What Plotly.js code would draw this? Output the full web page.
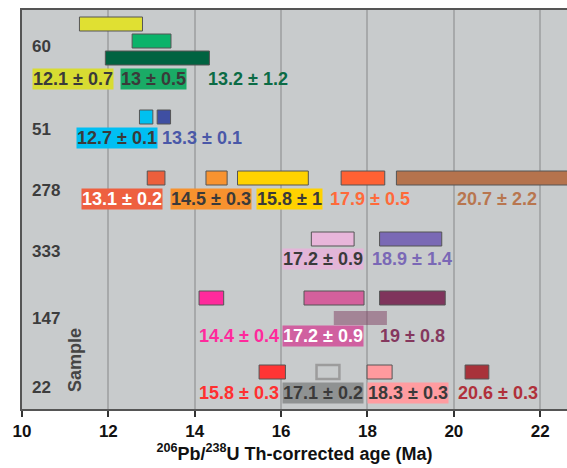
<!DOCTYPE html>
<html><head><meta charset="utf-8">
<script src="https://cdn.plot.ly/plotly-3.0.1.min.js"></script>
<style>body{margin:0;background:#fff}#chart{width:567px;height:468px}</style>
</head><body><div id="chart"></div>
<script>
// ---- data ----
const samples = ['60','51','278','333','147','22'];
// bars
const barSample = [0,0,0, 1,1, 2,2,2,2,2, 3,3, 4,4,4,4, 5,5,5,5];
const barLane   = [0,1,2, 0,0, 0,0,0,0,0, 0,0, 0,0,0,1, 0,0,0,0];
const barStart  = [11.33,12.55,11.93, 12.72,13.13, 12.90,14.26,14.99,17.39,18.67, 16.70,18.28, 14.10,16.53,18.28,17.22, 15.49,16.82,17.99,20.26];
const barEnd    = [12.79,13.45,14.34, 13.03,13.44, 13.31,14.75,16.63,18.40,22.90, 17.69,19.72, 14.67,17.92,19.80,18.45, 16.10,17.35,18.57,20.81];
// age labels
const labelSample = [0,0,0, 1,1, 2,2,2,2,2, 3,3, 4,4,4, 5,5,5,5];
const labelAge = [12.1,13,13.2, 12.7,13.3, 13.1,14.5,15.8,17.9,20.7, 17.2,18.9, 14.4,17.2,19, 15.8,17.1,18.3,20.6];
const labelErr = [0.7,0.5,1.2, 0.1,0.1, 0.2,0.3,1,0.5,2.2, 0.9,1.4, 0.4,0.9,0.8, 0.3,0.2,0.3,0.3];

// ---- styles / layout ----
const barColors = ['#e0e032','#0bb36a','#006341', '#00c0f0','#3f4fa2',
  '#ec5f3c','#f89330','#ffd200','#ff6133','#b5734d',
  '#e8b6da','#7a69b5', '#ff2a9c','#d4609c','#7f345c','rgba(125,62,95,0.5)',
  '#ff3535','#c8cbcc','#ff9a9e','#a8323a'];
const barLineColors = barColors.map((c,i)=> i===17 ? '#9c9c9c' : '#555555');
const barLineWidths = barColors.map((c,i)=> i===17 ? 2.5 : (i===15 ? 0 : 1));
const labelBg = ['#d8dc32','#1aab66',null, '#00bff3',null,
  '#ee6040','#f7922e','#ffd200',null,null,
  '#e3b5d8',null, null,'#d060a0',null, null,'#8f9292','#ff9ca0',null];
const labelColor = ['#3a3a3a','#3a3a3a','#0b6b45', '#3a3a3a','#4a58a8',
  '#ffffff','#3a3a3a','#3a3a3a','#ff6a3a','#b8764f',
  '#3a3a3a','#7a68b6', '#ff2a9c','#ffffff','#85385e',
  '#ff3030','#3a3a3a','#3a3a3a','#b0303a'];
const labelLeft = [10.24,12.28,14.29, 11.26,13.22, 11.37,13.43,15.42,17.11,20.05,
  16.03,18.09, 14.08,16.03,18.27, 14.08,16.03,17.99,20.08];
// vertical layout (plot px from top)
const rowLanes = [[14,31,48],[107],[168],[229],[288,308],[362]];
const rowLabel = [69,128,189,249,326,383];
const rowName  = [36,119,180,241,308,377];

const FONT = 'Liberation Sans, Arial, sans-serif';

const trace = {
  type:'bar', orientation:'h',
  base: barStart,
  x: barEnd.map((e,i)=> e - barStart[i]),
  y: barSample.map((s,i)=> rowLanes[s][barLane[i]]),
  width: 14,
  marker:{color: barColors, line:{color: barLineColors, width: barLineWidths}},
  hoverinfo:'skip'
};

const annotations = [];
labelAge.forEach((a,i)=>{
  const ann = {
    x: labelLeft[i], y: rowLabel[labelSample[i]], xref:'x', yref:'y',
    xanchor:'left', yanchor:'middle', showarrow:false,
    text: a + ' ± ' + labelErr[i],
    font:{family:FONT, size:18, weight:'bold', color:labelColor[i]},
    borderpad:0
  };
  if (labelBg[i]) ann.bgcolor = labelBg[i];
  annotations.push(ann);
});
samples.forEach((s,i)=>{
  annotations.push({x:10.18, y:rowName[i], xref:'x', yref:'y', xanchor:'left', yanchor:'middle',
    showarrow:false, text:s, font:{family:FONT, size:17, weight:'bold', color:'#3d3d3d'}});
});
annotations.push({x:11.23, y:350, xref:'x', yref:'y', xanchor:'center', yanchor:'middle',
  showarrow:false, text:'Sample', textangle:-90, font:{family:FONT, size:18, weight:'bold', color:'#454545'}});

const layout = {
  width:567, height:468,
  margin:{l:22, r:0, t:10, b:59},
  paper_bgcolor:'#ffffff', plot_bgcolor:'#c8cbcc',
  showlegend:false, barmode:'overlay',
  xaxis:{range:[10,22.62], tickvals:[10,12,14,16,18,20,22], ticks:'outside', ticklen:6, tickwidth:2,
    tickcolor:'#333', showline:true, linewidth:2, linecolor:'#555', mirror:true,
    showgrid:true, gridcolor:'#a7a9aa', gridwidth:2, zeroline:false,
    tickfont:{family:FONT, size:17, weight:'bold', color:'#111'},
    title:{text:'<sup>206</sup>Pb/<sup>238</sup>U Th-corrected age (Ma)', standoff:6,
      font:{family:FONT, size:18, weight:'bold', color:'#111'}}},
  yaxis:{range:[399,0], showline:true, linewidth:2, linecolor:'#555', showgrid:false,
    zeroline:false, showticklabels:false, ticks:''},
  annotations: annotations
};
Plotly.newPlot('chart',[trace],layout,{displayModeBar:false, staticPlot:true});
</script></body></html>
